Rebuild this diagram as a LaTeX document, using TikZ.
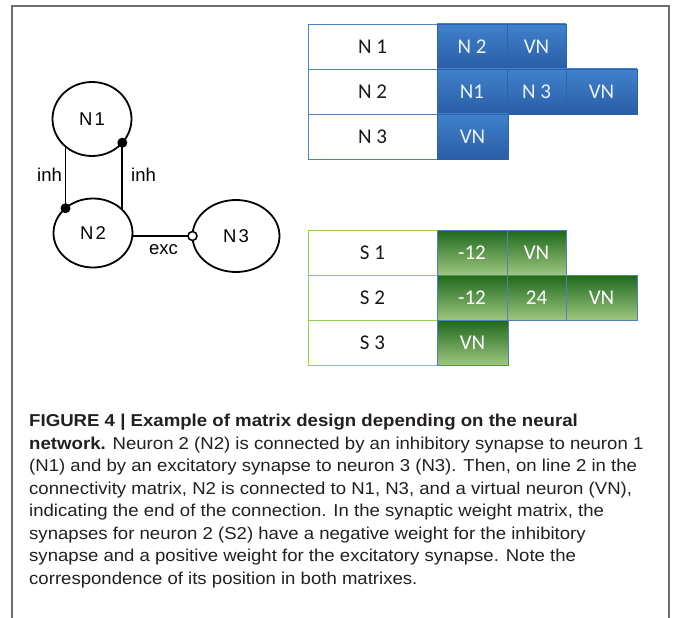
\documentclass[tikz,border=0pt]{standalone}
\usepackage{fontspec}
\setmainfont{Liberation Sans}
\newfontfamily\capfont[FakeStretch=1.08, BoldFeatures={FakeStretch=1.083}]{Liberation Sans}
\newfontfamily\tabfont{Carlito}
\usetikzlibrary{shapes.geometric}
\definecolor{framec}{RGB}{110,110,110}
\definecolor{captxt}{RGB}{35,31,32}
\definecolor{bluebord}{RGB}{79,129,189}
\definecolor{bluetop}{RGB}{64,129,204}
\definecolor{bluebot}{RGB}{42,94,166}
\definecolor{bluecellbord}{RGB}{46,98,168}
\definecolor{greentop}{RGB}{30,104,30}
\definecolor{greenbot}{RGB}{158,198,126}
\definecolor{greenbord}{RGB}{146,208,80}
\definecolor{celltxt}{RGB}{236,242,250}
\definecolor{lbltxt}{RGB}{25,25,25}
\begin{document}
\begin{tikzpicture}[x=1pt,y=-1pt,
  neuron/.style={ellipse, draw, line width=1.8pt, inner sep=0pt, outer sep=0pt,
    font=\fontsize{18.5}{20}\selectfont},
  syn/.style={line width=1.8pt},
  synlab/.style={inner sep=0pt, font=\fontsize{18.5}{20}\selectfont},
  lblcell/.style={rectangle, fill=white, line width=0.9pt, inner sep=0pt, outer sep=0pt,
    minimum width=129pt, minimum height=45pt, text=lbltxt, font=\tabfont\fontsize{21}{24}\selectfont},
  bcell/.style={rectangle, top color=bluetop, bottom color=bluebot, draw=bluecellbord,
    line width=0.7pt, inner sep=0pt, outer sep=0pt, minimum height=45pt, text=celltxt,
    font=\tabfont\fontsize{21}{24}\selectfont},
  gcell/.style={rectangle, top color=greentop, bottom color=greenbot, draw=bluebord,
    line width=0.8pt, inner sep=0pt, outer sep=0pt, minimum height=45pt, text=white,
    font=\tabfont\fontsize{21}{24}\selectfont},
  capline/.style={anchor=base west, inner sep=0pt, text=captxt,
    font=\capfont\fontsize{17.2}{22.5}\selectfont}
]
\useasboundingbox (0,0) rectangle (673,618);
% frame
\draw[framec, line width=1.5pt] (12,618) -- (12,6) -- (669,6) -- (669,618);

% network graph
\node[neuron, minimum width=79pt, minimum height=74pt] (N1) at (92,119) {N\kern2pt1};
\node[neuron, minimum width=79pt, minimum height=69pt] (N2) at (93,233) {N\kern2pt2};
\node[neuron, minimum width=87pt, minimum height=72pt] (N3) at (236,236) {N\kern2pt3};

\draw[syn] (N2.138.2 |- N1.225.7) -- (N2.138.2);
\fill (N2.138.2) circle (5pt);
\draw[syn] (N1.322.6) -- (N1.322.6 |- N2.37.5);
\fill (N1.322.6) circle (5pt);
\draw[syn] (N2.east |- N3.west) -- (N3.west);
\draw[line width=1.5pt, fill=white] (N3.west) circle (4.5pt);

\node[synlab] (inhL) at (49.5,175) {inh};
\node[synlab] (inhR) at (143.5,175) {inh};
\node[synlab] (exc) at (163.5,250) {exc};

% connectivity matrix (blue)
\node[lblcell, draw=bluebord] (bl1) at (372.5,46.5) {N 1};
\node[lblcell, draw=bluebord] (bl2) at (372.5,91.5) {N 2};
\node[lblcell, draw=bluebord] (bl3) at (372.5,136.5) {N 3};
\node[bcell, minimum width=70pt] (b11) at (472,46.5) {N 2};
\node[bcell, minimum width=59pt] (b12) at (536.5,46.5) {VN};
\node[bcell, minimum width=70pt] (b21) at (472,91.5) {N1};
\node[bcell, minimum width=59pt] (b22) at (536.5,91.5) {N 3};
\node[bcell, minimum width=71pt] (b23) at (601.5,91.5) {VN};
\node[bcell, minimum width=71pt] (b31) at (472.5,136.5) {VN};

% synaptic weight matrix (green)
\node[lblcell, draw=greenbord] (gl1) at (372.5,252.5) {S 1};
\node[lblcell, draw=greenbord] (gl2) at (372.5,297.5) {S 2};
\node[lblcell, draw=greenbord] (gl3) at (372.5,342.5) {S 3};
\node[gcell, minimum width=70pt] (g11) at (472,252.5) {-12};
\node[gcell, minimum width=59pt] (g12) at (536.5,252.5) {VN};
\node[gcell, minimum width=70pt] (g21) at (472,297.5) {-12};
\node[gcell, minimum width=59pt] (g22) at (536.5,297.5) {24};
\node[gcell, minimum width=71pt] (g23) at (601.5,297.5) {VN};
\node[gcell, minimum width=71pt] (g31) at (472.5,342.5) {VN};

% caption
\node[capline] (c1) at (29,426.7) {\textbf{FIGURE 4 | Example of matrix design depending on the neural}};
\node[capline] (c2) at (29,449.2) {\textbf{network.} Neuron 2 (N2) is connected by an inhibitory synapse to neuron 1};
\node[capline] (c3) at (29,471.7) {(N1) and by an excitatory synapse to neuron 3 (N3). Then, on line 2 in the};
\node[capline] (c4) at (29,494.2) {connectivity matrix, N2 is connected to N1, N3, and a virtual neuron (VN),};
\node[capline] (c5) at (29,516.7) {indicating the end of the connection. In the synaptic weight matrix, the};
\node[capline] (c6) at (29,539.2) {synapses for neuron 2 (S2) have a negative weight for the inhibitory};
\node[capline] (c7) at (29,561.7) {synapse and a positive weight for the excitatory synapse. Note the};
\node[capline] (c8) at (29,584.2) {correspondence of its position in both matrixes.};
\end{tikzpicture}
\end{document}
